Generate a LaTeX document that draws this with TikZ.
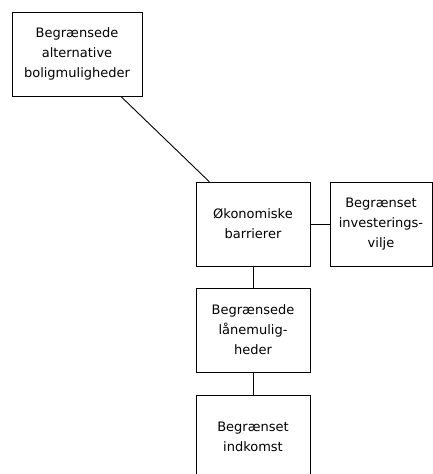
\documentclass[tikz,border=0pt]{standalone}
\usepackage{fontspec}
\setmainfont{DejaVu Sans}
\usepackage{tikz}
\tikzset{
box/.style={
  draw,
  rectangle,
  minimum width=114pt,
  minimum height=84pt,
  align=center,
  inner sep=2pt,
  font=\fontsize{13}{20}\selectfont
},
link/.style={draw, line width=0.9pt},
}

\begin{document}
\begin{tikzpicture}[x=1pt,y=-1pt]
\useasboundingbox (0,0) rectangle (433,474);
% the boxes
\node[box, minimum width=130pt] (alt) at (77,54) {Begrænsede\\alternative\\boligmuligheder};
\node[box] (oko) at (253,224) {Økonomiske\\barrierer};
\node[box, minimum width=102pt] (inv) at (381,224) {Begrænset\\investerings-\\vilje};
\node[box] (laan) at (253,330) {Begrænsede\\lånemulig-\\heder};
\node[box] (indk) at (253,437) {Begrænset\\indkomst};
% the lines
\draw[link] (alt) -- (oko);
\draw[link] (oko) -- (inv);
\draw[link] (oko) -- (laan);
\draw[link] (laan) -- (indk);
\end{tikzpicture}
\end{document}
